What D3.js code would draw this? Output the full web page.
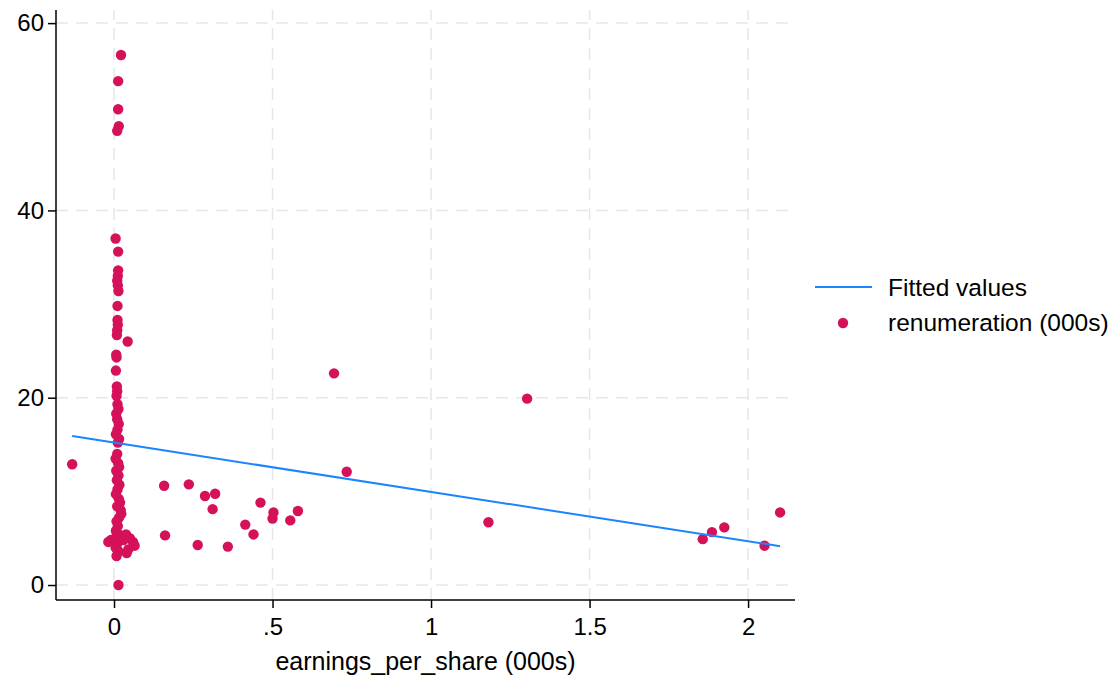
<!DOCTYPE html>
<html>
<head>
<meta charset="utf-8">
<script src="https://cdn.jsdelivr.net/npm/d3@7"></script>
<style>
  body { margin: 0; background: #fff; }
  text { font-family: "Liberation Sans", Arial, sans-serif; fill: #000; }
</style>
</head>
<body>
<div id="chart"></div>
<script>
// earnings_per_share (000s)  vs  renumeration (000s)
const epsVals = [
  -0.132, 0.022, 0.013, 0.013, 0.015, 0.010,
  0.005, 0.013,
  0.013, 0.012, 0.010, 0.012, 0.014,
  0.011,
  0.011, 0.012, 0.010, 0.009,
  0.043,
  0.007, 0.008, 0.006,
  0.009, 0.010, 0.008,
  0.011, 0.014, 0.007, 0.010, 0.015, 0.011, 0.006, 0.016, 0.012,
  0.010, 0.005, 0.013, 0.016, 0.007, 0.014, 0.009, 0.017, 0.011, 0.006,
  0.015, 0.019, 0.010, 0.021, 0.023, 0.016, 0.008, 0.012, 0.006, 0.015,
  0.004, -0.010, -0.018, 0.010, 0.005, 0.014, 0.008, 0.017,
  0.038, 0.050, 0.060, 0.065, 0.045, 0.040, 0.030,
  0.014,
  0.158, 0.236, 0.287, 0.319, 0.311, 0.462, 0.503, 0.500, 0.580, 0.556,
  0.414, 0.440, 0.161, 0.264, 0.359,
  0.694, 0.734, 1.181, 1.303, 1.857, 1.886, 1.925, 2.052, 2.101
];
const renumVals = [
  12.9, 56.6, 53.8, 50.8, 49.0, 48.5,
  37.0, 35.6,
  33.6, 33.0, 32.5, 32.0, 31.4,
  29.8,
  28.3, 27.8, 27.2, 26.7,
  26.0,
  24.6, 24.3, 22.9,
  21.2, 20.7, 20.2,
  19.3, 18.8, 18.3, 17.7, 17.2, 16.6, 16.1, 15.6, 15.2,
  14.0, 13.5, 13.0, 12.6, 12.2, 11.7, 11.2, 10.7, 10.2, 9.7,
  9.2, 8.8, 8.4, 8.0, 7.6, 7.2, 6.8, 6.3, 5.8, 5.4,
  5.0, 4.8, 4.6, 4.4, 4.0, 3.6, 3.1, 4.9,
  5.4, 5.0, 4.6, 4.2, 3.8, 3.4, 4.8,
  0.0,
  10.6, 10.75, 9.5, 9.75, 8.1, 8.8, 7.75, 7.1, 7.9, 6.9,
  6.45, 5.4, 5.3, 4.27, 4.1,
  22.6, 12.1, 6.7, 19.9, 4.9, 5.65, 6.15, 4.2, 7.75
];
// fitted values, read at the ends of the line
const fitX = [-0.132, 2.101];
const fitY = [15.9, 4.15];

const xTicks = [0, 0.5, 1, 1.5, 2];
const xTickLabels = ["0", ".5", "1", "1.5", "2"];
const yTicks = [0, 20, 40, 60];
const yTickLabels = ["0", "20", "40", "60"];

const legendLabels = ["Fitted values", "renumeration (000s)"];
const xTitle = "earnings_per_share (000s)";

const W = 1118, H = 679;
const plotL = 56, plotR = 795, plotT = 10, plotB = 600;
const lineCol = "#1a85ff", dotCol = "#d41159";

const svg = d3.select("#chart").append("svg").attr("width", W).attr("height", H);

const x = d3.scaleLinear().domain([-0.183, 2.148]).range([plotL, plotR]);
const y = d3.scaleLinear().domain([-1.6, 61.4]).range([plotB, plotT]);

// grid
svg.append("g").selectAll("line").data(xTicks).join("line")
  .attr("x1", d => x(d)).attr("x2", d => x(d))
  .attr("y1", plotB).attr("y2", plotT)
  .attr("stroke", "#e6e6e6").attr("stroke-width", 1.5).attr("stroke-dasharray", "12,8");
svg.append("g").selectAll("line").data(yTicks).join("line")
  .attr("x1", plotL).attr("x2", plotR)
  .attr("y1", d => y(d)).attr("y2", d => y(d))
  .attr("stroke", "#e6e6e6").attr("stroke-width", 1.5).attr("stroke-dasharray", "12,8");

// axes
const xAxis = d3.axisBottom(x).tickValues(xTicks).tickSize(8).tickPadding(10)
  .tickFormat((d, i) => xTickLabels[i]);
const gx = svg.append("g").attr("transform", `translate(0,${plotB})`).call(xAxis);
const yAxis = d3.axisLeft(y).tickValues(yTicks).tickSize(8).tickPadding(4)
  .tickFormat((d, i) => yTickLabels[i]);
const gy = svg.append("g").attr("transform", `translate(${plotL},0)`).call(yAxis);

[gx, gy].forEach(g => {
  g.select(".domain").attr("stroke", "#000").attr("stroke-width", 1.5);
  g.selectAll(".tick line").attr("stroke", "#000").attr("stroke-width", 1.5);
  g.selectAll(".tick text").attr("font-size", 24).attr("font-family", "Liberation Sans, Arial, sans-serif").attr("fill", "#000");
});
gx.select(".domain").attr("d", `M${plotL},0H${plotR}`);
gy.select(".domain").attr("d", `M0,${plotB}V${plotT}`);

svg.append("text").attr("x", (plotL + plotR) / 2).attr("y", 670)
  .attr("text-anchor", "middle").attr("font-size", 25).text(xTitle);

// points
const pts = epsVals.map((v, i) => ({ x: v, y: renumVals[i] }));
svg.append("g").selectAll("circle").data(pts).join("circle")
  .attr("cx", d => x(d.x)).attr("cy", d => y(d.y)).attr("r", 5.2)
  .attr("fill", dotCol);

// fitted line
svg.append("path")
  .datum(fitX.map((v, i) => [v, fitY[i]]))
  .attr("d", d3.line().x(d => x(d[0])).y(d => y(d[1])))
  .attr("fill", "none").attr("stroke", lineCol).attr("stroke-width", 2);

// legend
const lg = svg.append("g");
lg.append("line").attr("x1", 815).attr("x2", 872).attr("y1", 287).attr("y2", 287)
  .attr("stroke", lineCol).attr("stroke-width", 2);
lg.append("circle").attr("cx", 843).attr("cy", 323).attr("r", 5.2).attr("fill", dotCol);
lg.selectAll("text").data(legendLabels).join("text")
  .attr("x", 888).attr("y", (d, i) => 296 + i * 35)
  .attr("font-size", 24.5).text(d => d);
</script>
</body>
</html>
